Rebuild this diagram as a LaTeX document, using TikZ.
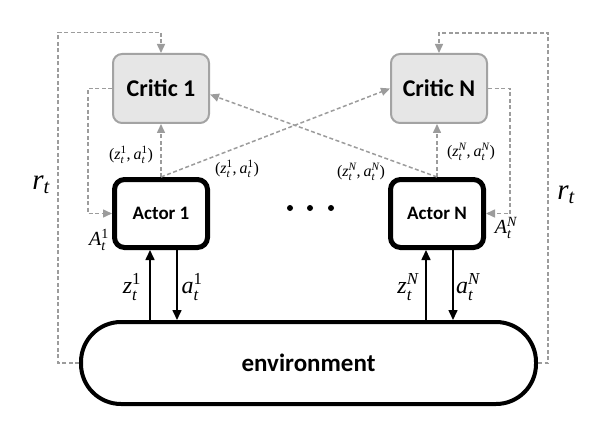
\documentclass[tikz,border=0pt]{standalone}
\usepackage{amsmath}
\usepackage{fontspec}
\setmainfont{Carlito}
\newfontfamily\tmsfont{Liberation Serif}
\newcommand{\ti}[1]{\text{\tmsfont\itshape #1}}
\newcommand{\tu}[1]{\text{\tmsfont #1}}
\newcommand{\sym}[3]{\ti{#1}_{\ti{#2}}^{#3}}
\newcommand{\pairlab}[1]{$\tu{(}\sym{z}{t}{#1}\tu{,}\,\sym{a}{t}{#1}\tu{)}$}
\usetikzlibrary{arrows.meta,calc}
\definecolor{dashgray}{HTML}{9C9C9C}
\definecolor{critgray}{HTML}{A3A3A3}
\definecolor{critfill}{HTML}{E6E6E6}
\begin{document}
\begin{tikzpicture}[x=1pt,y=-1pt,
  critic/.style={draw=critgray, fill=critfill, line width=2pt, rounded corners=9pt,
    minimum width=96pt, minimum height=69pt, inner sep=0pt, font=\fontsize{24}{28}\selectfont\bfseries},
  actor/.style={draw=black, fill=white, line width=5pt, rounded corners=10pt,
    minimum width=93pt, minimum height=68pt, inner sep=0pt, font=\fontsize{19}{22}\selectfont\bfseries},
  envnode/.style={draw=black, fill=white, line width=4pt, rounded corners=40pt,
    minimum width=455pt, minimum height=82pt, inner sep=0pt, font=\fontsize{25}{30}\selectfont\bfseries},
  fb/.style={draw=dashgray, line width=1.5pt, dash pattern=on 4pt off 2.5pt},
  fbarrow/.style={fb, -{Triangle[length=9pt,width=8pt]}},
  blkarrow/.style={draw=black, line width=1.6pt, -{Triangle[length=10pt,width=9pt]}},
  smalllab/.style={inner sep=0pt, font=\fontsize{16}{19}\selectfont},
  alab/.style={inner sep=0pt, font=\fontsize{20}{24}\selectfont},
  biglab/.style={inner sep=0pt, font=\fontsize{24}{28}\selectfont},
  rlab/.style={inner sep=0pt, font=\fontsize{29}{34}\selectfont},
]
\useasboundingbox (0,0) rectangle (594,425);

% boxes
\node[critic] (c1) at (161,88.5) {Critic 1};
\node[critic] (cN) at (439,88.5) {Critic N};
\node[actor] (a1) at (161,213.5) {Actor 1};
\node[actor] (aN) at (437,213.5) {Actor N};
\node[envnode] (env) at (308.5,363) {environment};

% helper coordinates
\coordinate (tl) at (58,32.5);
\coordinate (tr) at (548,33);
\coordinate (ll) at (88,0);
\coordinate (rr) at (510,0);
\coordinate (z1) at ($(a1.south)+(-11,0)$);
\coordinate (x1) at ($(a1.south)+(16,0)$);
\coordinate (zN) at ($(aN.south)+(-11,0)$);
\coordinate (xN) at ($(aN.south)+(16,0)$);
\coordinate (c1in) at ($(c1.east)+(0,6)$);

% reward feedback
\draw[fbarrow] (env.west) -| (tl) -| (c1.north);
\draw[fbarrow] (env.east) -| (tr) -| (cN.north);

% critic to actor
\draw[fbarrow] (c1.west) -| (ll |- a1.west) -- (a1.west);
\draw[fbarrow] (cN.east) -| (rr |- aN.east) -- (aN.east);

% actor to critics
\draw[fbarrow] (a1.north) -- (a1.north |- c1.south);
\draw[fbarrow] (aN.north) -- (aN.north |- cN.south);
\draw[fbarrow] (a1.north) -- (cN.west);
\draw[fbarrow] (aN.north) -- (c1in);

% actor <-> environment
\draw[blkarrow] (z1 |- env.north) -- (z1);
\draw[blkarrow] (x1) -- (x1 |- env.north);
\draw[blkarrow] (zN |- env.north) -- (zN);
\draw[blkarrow] (xN) -- (xN |- env.north);

% dots
\fill (290,208) circle (3);
\fill (310,208) circle (3);
\fill (331,208) circle (3);

% labels
\node[smalllab] (l1) at (131,155) {\pairlab{\tu{1}}};
\node[smalllab] (l2) at (237,169) {\pairlab{\tu{1}}};
\node[smalllab] (l3) at (471,152) {\pairlab{\ti{N}}};
\node[smalllab] (l4) at (361,172) {\pairlab{\ti{N}}};
\node[alab] (A1) at (99,240) {$\sym{A}{t}{\tu{1}}$};
\node[alab] (AN) at (506,228) {$\sym{A}{t}{\ti{N}}$};
\node[biglab] (lz1) at (132,287) {$\sym{z}{t}{\tu{1}}$};
\node[biglab] (la1) at (192,287) {$\sym{a}{t}{\tu{1}}$};
\node[biglab] (lzN) at (408,287) {$\sym{z}{t}{\ti{N}}$};
\node[biglab] (laN) at (468,287) {$\sym{a}{t}{\ti{N}}$};
\node[rlab] (r1) at (41,185) {$\ti{r}_{\ti{t}}$};
\node[rlab] (r2) at (566,195) {$\ti{r}_{\ti{t}}$};
\end{tikzpicture}
\end{document}
